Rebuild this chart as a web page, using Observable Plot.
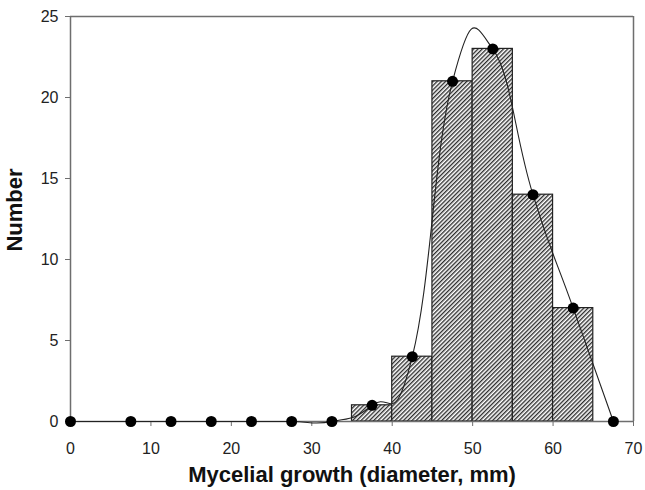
<!DOCTYPE html>
<html>
<head>
<meta charset="utf-8">
<script src="https://cdn.jsdelivr.net/npm/d3@7"></script>
<script src="https://cdn.jsdelivr.net/npm/@observablehq/plot@0.6"></script>
<style>
  html, body { margin: 0; padding: 0; background: #fff; }
  #chart svg { display: block; }
</style>
</head>
<body>
<div id="chart"></div>
<script>
// Histogram bins (mm) and counts
const binStart = [35, 40, 45, 50, 55, 60];
const binEnd   = [40, 45, 50, 55, 60, 65];
const binCount = [1, 4, 21, 23, 14, 7];

// Frequency polygon points (class midpoints)
const pointX = [0, 7.5, 12.5, 17.5, 22.5, 27.5, 32.5, 37.5, 42.5, 47.5, 52.5, 57.5, 62.5, 67.5];
const pointY = [0, 0, 0, 0, 0, 0, 0, 1, 4, 21, 23, 14, 7, 0];

const xTicks = [0, 10, 20, 30, 40, 50, 60, 70];
const yTicks = [0, 5, 10, 15, 20, 25];

const bars = binStart.map((s, i) => ({x1: s, x2: binEnd[i], y: binCount[i]}));
const pts = pointX.map((x, i) => ({x, y: pointY[i]}));

const axisGray = "#6e6e6e";

const plot = Plot.plot({
  width: 645,
  height: 490,
  marginLeft: 70,
  marginRight: 12,
  marginTop: 16,
  marginBottom: 69,
  style: {fontFamily: "'Liberation Sans', Arial, sans-serif", fontSize: "16px", color: "#222", background: "#fff"},
  x: {domain: [0, 70], label: null},
  y: {domain: [0, 25], label: null},
  marks: [
    Plot.rectY(bars, {x1: "x1", x2: "x2", y: "y", fill: "url(#hatch)", stroke: "#222", strokeWidth: 1.2, inset: 0}),
    Plot.ruleX([70], {stroke: axisGray, strokeWidth: 1.5}),
    Plot.ruleY([25], {stroke: axisGray, strokeWidth: 1.5}),
    Plot.ruleX([0], {stroke: axisGray, strokeWidth: 1.5}),
    Plot.ruleY([0], {stroke: axisGray, strokeWidth: 1.5}),
    Plot.axisX({ticks: xTicks, tickSize: 5, tickPadding: 16, stroke: axisGray, fontSize: 16, fill: "#222", label: null}),
    Plot.axisY({ticks: yTicks, tickSize: 5, tickPadding: 7, stroke: axisGray, fontSize: 16, fill: "#222", label: null}),
    Plot.line(pts, {x: "x", y: "y", curve: "cardinal", tension: -0.4, stroke: "#222", strokeWidth: 1.1}),
    Plot.dot(pts, {x: "x", y: "y", r: 5.5, fill: "#000", stroke: "none"}),
    Plot.text(["Mycelial growth (diameter, mm)"], {frameAnchor: "bottom", dy: 60, fontWeight: "bold", fontSize: 22, fill: "#111"}),
    Plot.text(["Number"], {frameAnchor: "left", dx: -56, dy: -9, rotate: -90, textAnchor: "middle", fontWeight: "bold", fontSize: 22, fill: "#111"})
  ]
});

// Hatch pattern definition
const svg = d3.select(plot);
const defs = svg.insert("defs", ":first-child");
const pat = defs.append("pattern")
  .attr("id", "hatch")
  .attr("patternUnits", "userSpaceOnUse")
  .attr("width", 3)
  .attr("height", 3)
  .attr("patternTransform", "rotate(45)");
pat.append("rect").attr("width", 3).attr("height", 3).attr("fill", "#fff");
pat.append("line").attr("x1", 0.7).attr("y1", 0).attr("x2", 0.7).attr("y2", 3)
  .attr("stroke", "#222").attr("stroke-width", 1.3);

document.getElementById("chart").appendChild(plot);
</script>
</body>
</html>
